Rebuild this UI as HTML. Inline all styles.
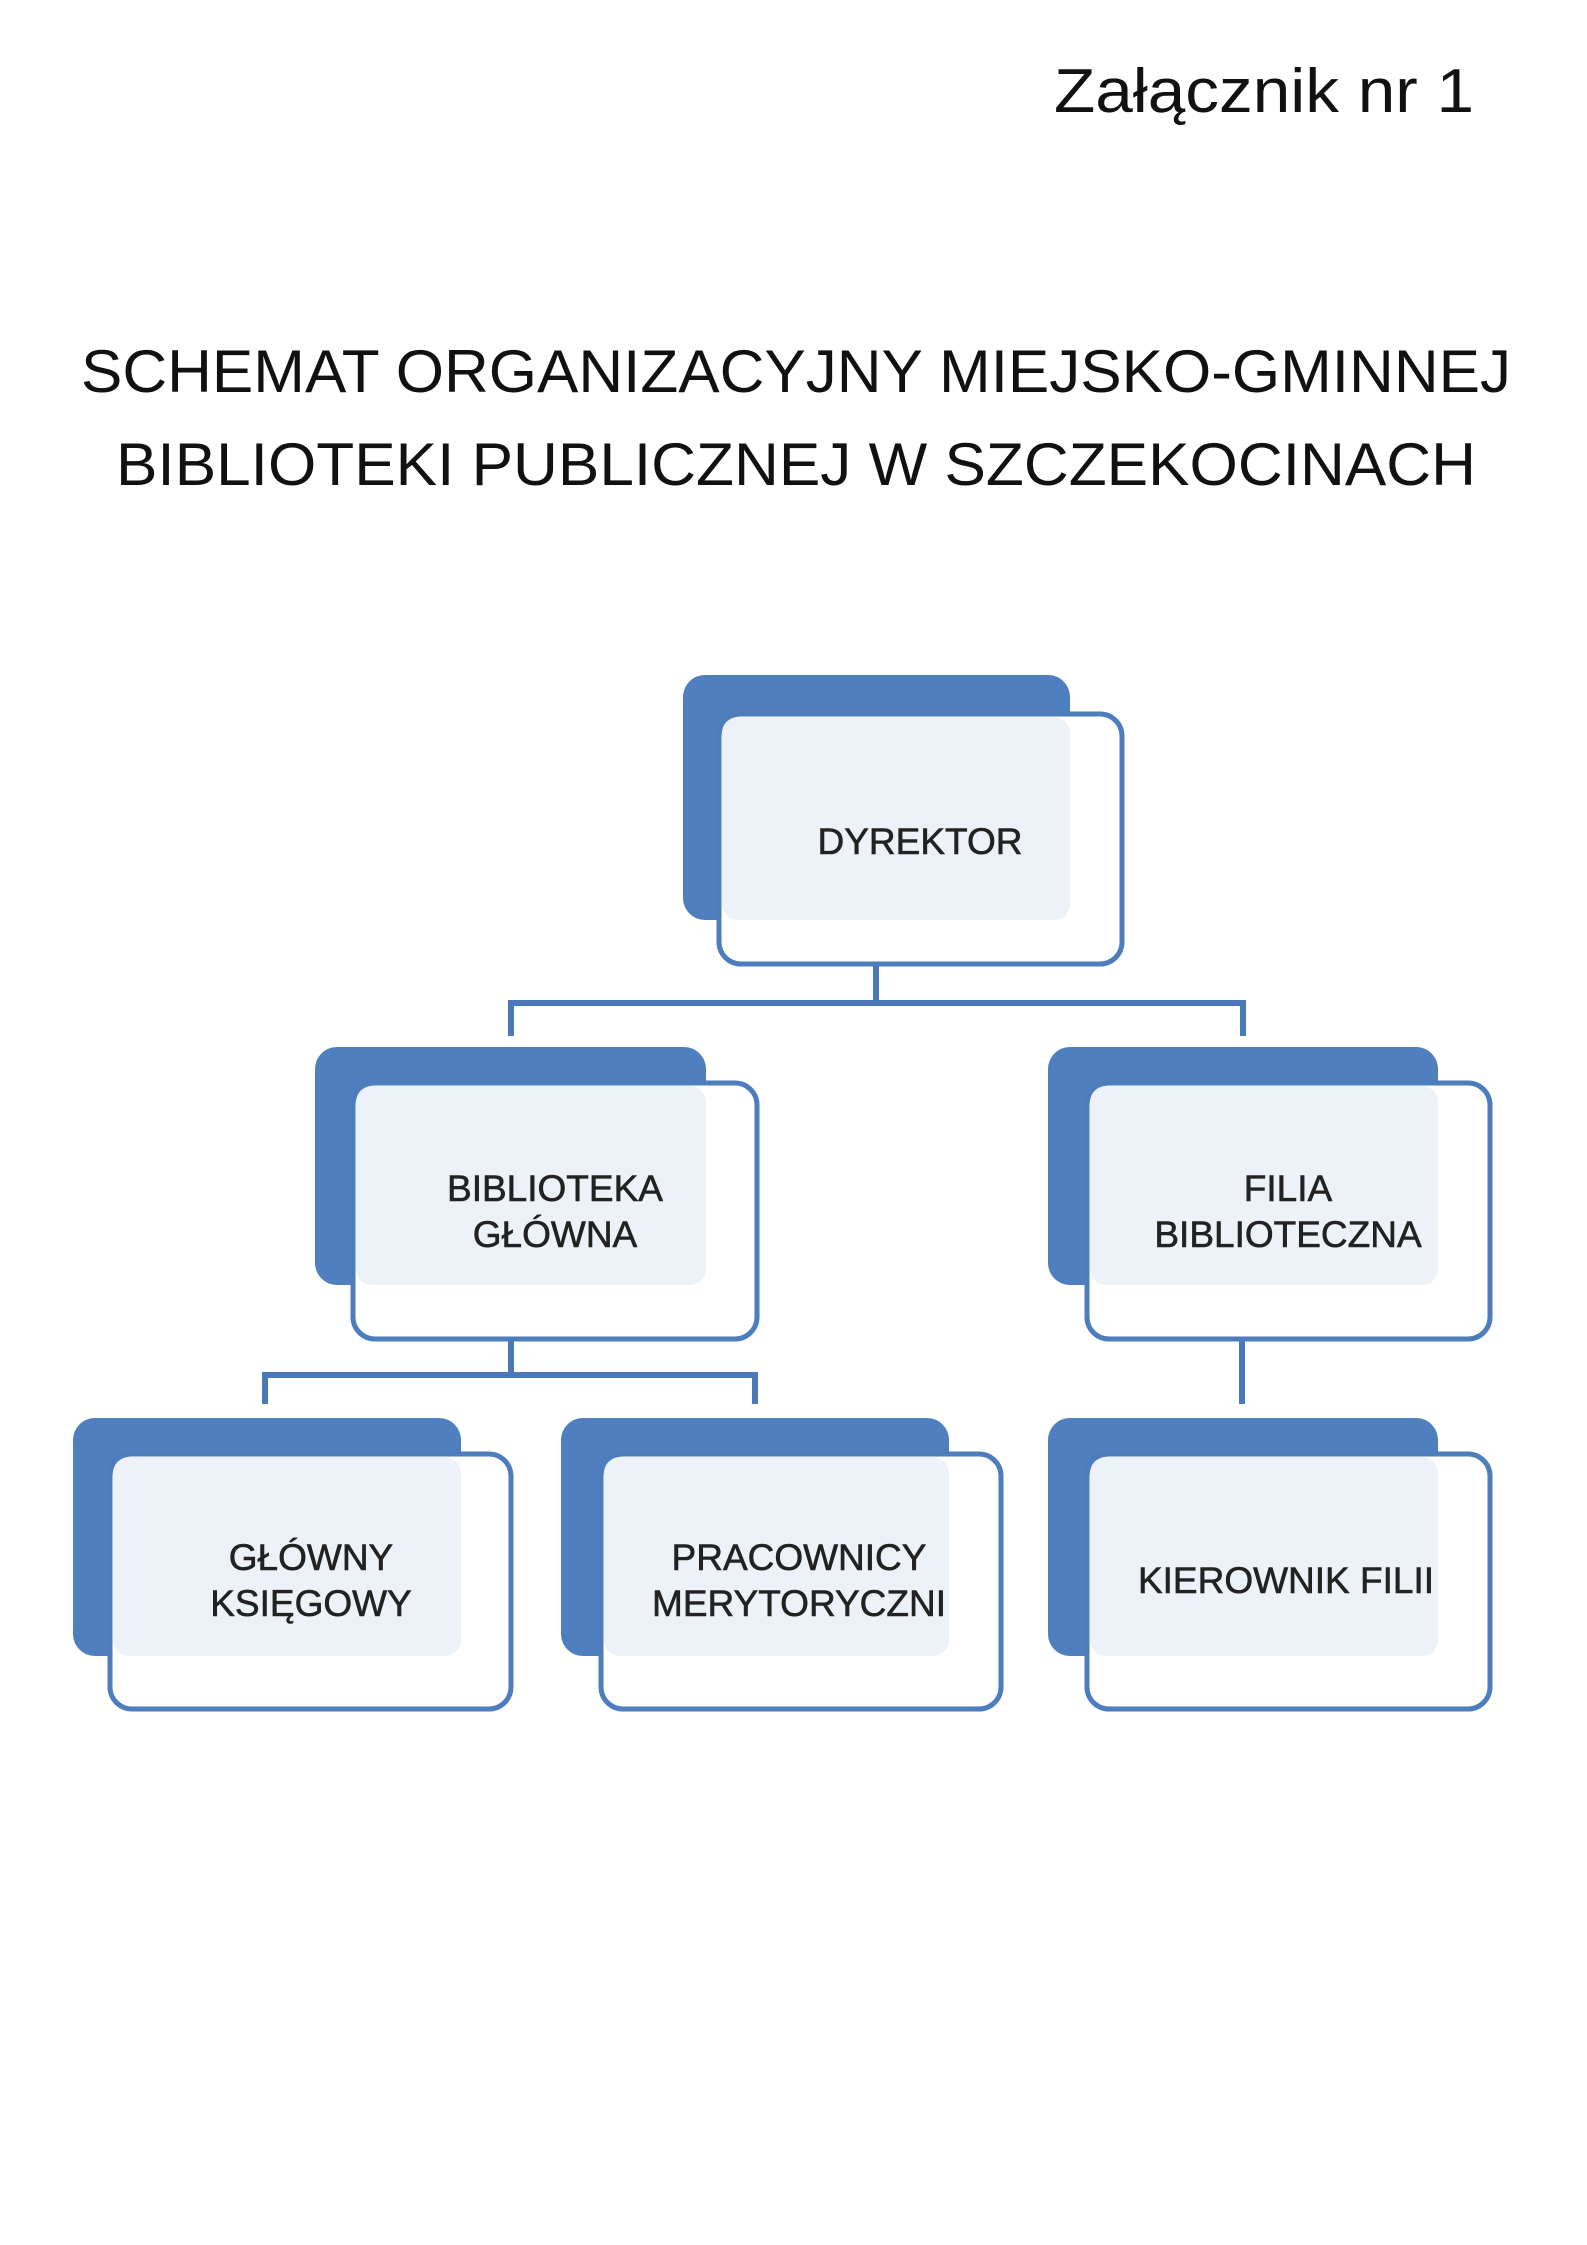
<!DOCTYPE html>
<html><head><meta charset="utf-8"><style>
html,body{margin:0;padding:0;background:#fff;}
svg{display:block;}
</style></head><body>
<svg width="1587" height="2245" viewBox="0 0 1587 2245" xmlns="http://www.w3.org/2000/svg">
<text x="1474" y="112" text-anchor="end" font-family="Liberation Sans, sans-serif" font-size="62" fill="#111" textLength="420" lengthAdjust="spacingAndGlyphs">Załącznik nr 1</text>
<text x="796" y="392" text-anchor="middle" font-family="Liberation Sans, sans-serif" font-size="60" fill="#111" textLength="1430" lengthAdjust="spacingAndGlyphs">SCHEMAT ORGANIZACYJNY MIEJSKO-GMINNEJ</text>
<text x="796" y="485" text-anchor="middle" font-family="Liberation Sans, sans-serif" font-size="60" fill="#111" textLength="1360" lengthAdjust="spacingAndGlyphs">BIBLIOTEKI PUBLICZNEJ W SZCZEKOCINACH</text>

<g transform="translate(-5,-3)">
<g stroke="#4a78b8" stroke-width="6" fill="none">
<path d="M881 967 V1006 M516 1039 V1006 H1248 V1039"/>
<path d="M516 1342 V1378 M270 1407 V1378 H760 V1407"/>
<path d="M1247 1342 V1407"/>
</g>

<g font-family="Liberation Sans, sans-serif" font-size="37" fill="#222" stroke="#222" stroke-width="0.6" text-anchor="middle">
<rect x="688" y="678" width="387" height="245" rx="22" fill="#4f7fbf" stroke="none"/>
<rect x="724" y="717" width="403" height="250" rx="22" fill="#fff" stroke="#4e7dbd" stroke-width="5"/>
<rect x="727" y="720" width="348" height="203" rx="16" fill="#edf1f8" stroke="none"/>
<text x="925" y="857">DYREKTOR</text>

<rect x="320" y="1050" width="391" height="238" rx="22" fill="#4f7fbf" stroke="none"/>
<rect x="358" y="1086" width="404" height="256" rx="22" fill="#fff" stroke="#4e7dbd" stroke-width="5"/>
<rect x="361" y="1089" width="350" height="199" rx="16" fill="#edf1f8" stroke="none"/>
<text x="560" y="1204">BIBLIOTEKA</text>
<text x="560" y="1250">GŁÓWNA</text>

<rect x="1053" y="1050" width="390" height="238" rx="22" fill="#4f7fbf" stroke="none"/>
<rect x="1092" y="1086" width="403" height="256" rx="22" fill="#fff" stroke="#4e7dbd" stroke-width="5"/>
<rect x="1095" y="1089" width="348" height="199" rx="16" fill="#edf1f8" stroke="none"/>
<text x="1293" y="1204">FILIA</text>
<text x="1293" y="1250">BIBLIOTECZNA</text>

<rect x="78" y="1421" width="388" height="238" rx="22" fill="#4f7fbf" stroke="none"/>
<rect x="115" y="1457" width="401" height="255" rx="22" fill="#fff" stroke="#4e7dbd" stroke-width="5"/>
<rect x="118" y="1460" width="348" height="199" rx="16" fill="#edf1f8" stroke="none"/>
<text x="316" y="1573">GŁÓWNY</text>
<text x="316" y="1619">KSIĘGOWY</text>

<rect x="566" y="1421" width="388" height="238" rx="22" fill="#4f7fbf" stroke="none"/>
<rect x="606" y="1457" width="400" height="255" rx="22" fill="#fff" stroke="#4e7dbd" stroke-width="5"/>
<rect x="609" y="1460" width="345" height="199" rx="16" fill="#edf1f8" stroke="none"/>
<text x="804" y="1573">PRACOWNICY</text>
<text x="804" y="1619">MERYTORYCZNI</text>

<rect x="1053" y="1421" width="390" height="238" rx="22" fill="#4f7fbf" stroke="none"/>
<rect x="1092" y="1457" width="403" height="255" rx="22" fill="#fff" stroke="#4e7dbd" stroke-width="5"/>
<rect x="1095" y="1460" width="348" height="199" rx="16" fill="#edf1f8" stroke="none"/>
<text x="1291" y="1596">KIEROWNIK FILII</text>
</g>
</g>
</svg>
</body></html>
